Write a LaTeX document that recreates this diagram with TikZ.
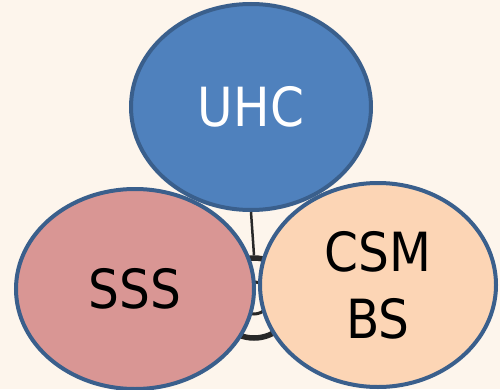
\documentclass[tikz,border=0pt]{standalone}
\usepackage{fontspec}
\setmainfont{DejaVu Sans Condensed}
\usepackage{tikz}
\usetikzlibrary{shapes.geometric}
\definecolor{paper}{RGB}{253,245,236}
\definecolor{rim}{RGB}{58,95,140}
\definecolor{uhcblue}{RGB}{79,129,189}
\definecolor{ssspink}{RGB}{217,150,148}
\definecolor{csmpeach}{RGB}{252,213,181}
\definecolor{cord}{RGB}{40,40,40}

\begin{document}
\begin{tikzpicture}[x=1pt,y=1pt,
  blob/.style={ellipse,draw=rim,line width=4pt,inner sep=0pt,
    font=\fontsize{54}{67}\selectfont,align=center}]
\useasboundingbox (0,0) rectangle (500,389);
\fill[paper] (0,0) rectangle (500,389);
\node[blob,fill=uhcblue,text=white,minimum width=240,minimum height=206] (UHC) at (251,282) {UHC};
\node[circle,draw=cord,line width=5.5pt,minimum size=80,inner sep=0pt] (ring) at (254,91) {};
\node[circle,draw=cord,line width=3pt,minimum size=32,inner sep=0pt] (knot) at (254,91) {};
\draw[cord,line width=2.5pt] (UHC.south) -- (ring.north);
\node[blob,fill=ssspink,minimum width=238,minimum height=200] (SSS) at (135,100) {SSS};
\node[blob,fill=csmpeach,minimum width=236,minimum height=204] (CSM) at (378,104) {CSM\\BS};
\end{tikzpicture}
\end{document}
